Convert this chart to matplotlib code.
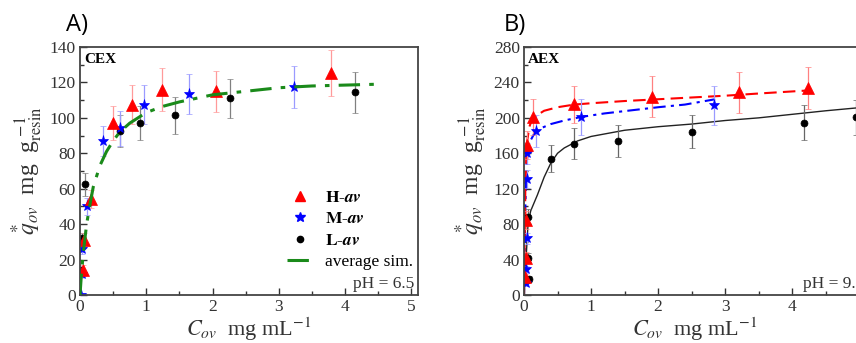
import matplotlib
matplotlib.use('Agg')
import matplotlib.pyplot as plt
from matplotlib.lines import Line2D

plt.rcParams['font.family'] = 'Liberation Serif'
plt.rcParams['mathtext.fontset'] = 'stix'

# ---- panel A (CEX, pH 6.5) ----
cex_h_x = [0.04, 0.06, 0.16, 0.50, 0.78, 1.23, 2.05, 3.78]
cex_h_y = [14, 31, 54, 97, 107.5, 116, 115, 125.5]
cex_h_err = [3, 4, 5, 9.5, 11, 12, 11.5, 13]

cex_m_x = [0.02, 0.025, 0.03, 0.11, 0.35, 0.61, 0.96, 1.65, 3.23]
cex_m_y = [0, 12, 26, 50, 87, 94, 107.5, 113.5, 117.5]
cex_m_err = [1, 2, 3, 5, 8.5, 10, 11, 11.5, 12]

cex_l_x = [0.02, 0.03, 0.08, 0.60, 0.90, 1.44, 2.27, 4.15]
cex_l_y = [14, 32, 62.5, 92.5, 97, 101.5, 111, 114.5]
cex_l_err = [2, 3, 6.5, 9, 9.5, 10.5, 11, 11.5]

cex_sim_x = [0.0, 0.02, 0.05, 0.1, 0.15, 0.2, 0.3, 0.4, 0.5, 0.6, 0.75, 1.0,
             1.25, 1.5, 2.0, 2.5, 3.0, 3.5, 4.0, 4.5]
cex_sim_y = [0, 11, 24, 40, 51, 61, 73, 81, 87, 92, 97, 103,
             106.5, 109, 113, 115, 117, 118, 118.5, 119]

# ---- panel B (AEX, pH 9.3) ----
aex_h_x = [0.02, 0.025, 0.03, 0.04, 0.13, 0.75, 1.91, 3.20, 4.23]
aex_h_y = [20, 42, 85, 169.5, 201, 215.5, 224, 229, 233.5]
aex_h_err = [4, 6, 10, 16, 20, 21, 23, 23, 24]

aex_m_x = [0.03, 0.035, 0.04, 0.045, 0.05, 0.18, 0.85, 2.84]
aex_m_y = [13, 29, 64, 131, 160, 185, 201, 214.5]
aex_m_err = [3, 4, 6, 10, 12, 18, 20, 22]

aex_l_x = [0.08, 0.06, 0.065, 0.41, 0.75, 1.40, 2.50, 4.18, 4.95]
aex_l_y = [18, 42, 88.5, 154, 171, 173.5, 184.5, 194.5, 200.5]
aex_l_err = [3, 5, 9, 15, 17, 18, 19, 20, 20]

aex_h_fit_x = [0.0, 0.01, 0.02, 0.04, 0.08, 0.13, 0.3, 0.5, 0.75, 1.0, 1.5, 2.0,
               2.5, 3.0, 3.5, 4.25]
aex_h_fit_y = [0, 60, 120, 170, 190, 200, 208, 212, 215, 216.5, 219, 221,
               223, 225, 227.5, 231]
aex_m_fit_x = [0.0, 0.01, 0.02, 0.04, 0.08, 0.18, 0.4, 0.6, 0.85, 1.2, 1.6,
               2.0, 2.4, 2.85]
aex_m_fit_y = [0, 50, 100, 150, 172, 186, 193, 197, 201, 205, 208.5,
               212, 215, 221]
aex_l_fit_x = [0.0, 0.03, 0.06, 0.1, 0.2, 0.3, 0.4, 0.5, 0.6, 0.8, 1.0, 1.5,
               2.0, 2.5, 3.0, 3.5, 4.0, 4.5, 5.0, 5.1]
aex_l_fit_y = [0, 40, 80, 95, 113, 133, 149, 160, 166, 174, 179, 186,
               190, 193, 197, 200, 204, 208, 211.5, 212]

fig = plt.figure(figsize=(8.56, 3.43), dpi=100)
axA = fig.add_axes([80 / 856, 1 - 295 / 343, 338 / 856, 248 / 343])
axB = fig.add_axes([524 / 856, 1 - 295 / 343, 342 / 856, 248 / 343])

red, blue, black, green = '#ff0000', '#0000ff', '#000000', '#1a8a1a'
ekw = dict(capsize=2.5, elinewidth=0.9, capthick=0.9, linestyle='none')


def draw_points(ax, x, y, err, color, ecolor, marker, ms):
    ax.errorbar(x, y, yerr=err, fmt=marker, color=color, ecolor=ecolor,
                markersize=ms, markeredgewidth=0.5, **ekw)


draw_points(axA, cex_l_x, cex_l_y, cex_l_err, black, '#808080', 'o', 5)
draw_points(axA, cex_m_x, cex_m_y, cex_m_err, blue, '#9a9aff', '*', 8)
draw_points(axA, cex_h_x, cex_h_y, cex_h_err, red, '#ff9a9a', '^', 8)
axA.plot(cex_sim_x, cex_sim_y, color=green, lw=2.2, dashes=(7, 3, 1.5, 3), zorder=5)

axB.plot(aex_l_fit_x, aex_l_fit_y, color='#222222', lw=1.0)
axB.plot(aex_m_fit_x, aex_m_fit_y, color=blue, lw=1.5, dashes=(6, 2.5, 1.5, 2.5))
axB.plot(aex_h_fit_x, aex_h_fit_y, color=red, lw=1.5, dashes=(6, 3))
draw_points(axB, aex_l_x, aex_l_y, aex_l_err, black, '#666666', 'o', 5)
draw_points(axB, aex_m_x, aex_m_y, aex_m_err, blue, '#9a9aff', '*', 8)
draw_points(axB, aex_h_x, aex_h_y, aex_h_err, red, '#ff8080', '^', 8)

ylab = r'$\overset{\ast}{q}_{ov}$  mg  g$^{\ \mathrm{-1}}_{\mathrm{resin}}$'
xlab = r'$C_{ov}$  mg mL$^{-1}$'

panels = [(axA, 140, 20, 'CEX', 'A)', -0.04),
          (axB, 280, 40, 'AEX', 'B)', -0.06)]
for ax, ymax, ystep, tag, letter, lx in panels:
    ax.set_xlim(0, 5.1)
    ax.set_ylim(0, ymax)
    ax.set_xticks(range(0, 6))
    ax.set_xticks([0.5, 1.5, 2.5, 3.5, 4.5], minor=True)
    ax.set_yticks(range(0, ymax + 1, ystep))
    ax.set_yticks(range(ystep // 2, ymax, ystep), minor=True)
    ax.tick_params(which='both', direction='in', top=False, right=False,
                   labelsize=12.5, colors='#333333', pad=3)
    ax.tick_params(which='major', length=5, width=1)
    ax.tick_params(which='minor', length=3, width=1)
    for s in ax.spines.values():
        s.set_color('#444444')
        s.set_linewidth(1.3)
    ax.set_xlabel(xlab, fontsize=16, labelpad=0, color='#333333')
    ax.set_ylabel(ylab, fontsize=17, labelpad=4, color='#333333')
    ax.text(0.012, 0.975, tag, transform=ax.transAxes, fontsize=11,
            fontweight='bold', va='top', ha='left')
    ax.text(lx, 1.04, letter, transform=ax.transAxes, fontsize=17,
            family='Open Sans', va='bottom', ha='left')

axA.text(0.99, 0.012, 'pH = 6.5', transform=axA.transAxes, fontsize=12.5,
         ha='right', va='bottom', color='#333333')
axB.text(0.815, 0.012, 'pH = 9.3', transform=axB.transAxes, fontsize=12.5,
         ha='left', va='bottom', color='#333333')

handles = [
    Line2D([], [], color=red, marker='^', ls='none', markersize=7),
    Line2D([], [], color=blue, marker='*', ls='none', markersize=7),
    Line2D([], [], color=black, marker='o', ls='none', markersize=4.5),
    Line2D([], [], color=green, lw=2.2, dashes=(7, 3, 1.5, 3)),
]
labels = [r'$\mathbf{H}$-$\mathbfit{av}$', r'$\mathbf{M}$-$\mathbfit{av}$',
          r'$\mathbf{L}$-$\mathbfit{av}$', 'average sim.']
axA.legend(handles, labels, loc='lower right', bbox_to_anchor=(1.005, 0.072),
           borderaxespad=0, frameon=False, fontsize=12.5, handlelength=1.6,
           labelspacing=0.3, handletextpad=0.6)

fig.savefig('out.png', dpi=100)
